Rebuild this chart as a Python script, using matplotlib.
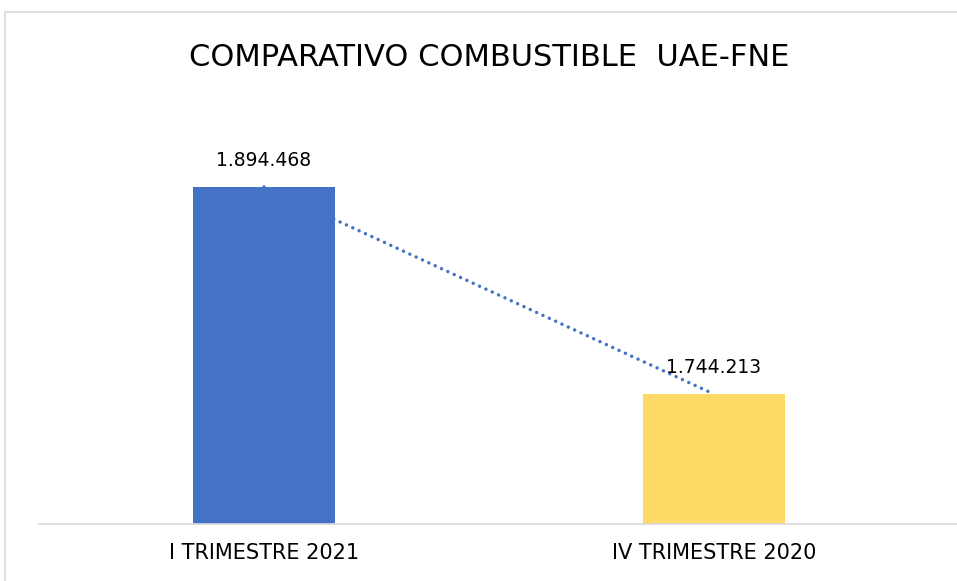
import matplotlib.pyplot as plt
from matplotlib import font_manager
from matplotlib.patches import Rectangle

# data
categories = ['I TRIMESTRE 2021', 'IV TRIMESTRE 2020']
values = [1894468, 1744213]
labels = ['1.894.468', '1.744.213']
colors = ['#4472C4', '#FFD966']

names = set(f.name for f in font_manager.fontManager.ttflist)
font = 'Liberation Sans Narrow' if 'Liberation Sans Narrow' in names else 'DejaVu Sans'
plt.rcParams['font.family'] = [font, 'DejaVu Sans']

W, H = 957, 581
fig = plt.figure(figsize=(W / 100, H / 100), dpi=100)

# light grey chart frame (top and left edges visible)
fig.patches.append(Rectangle((5 / W, -0.1), 1.2, 1 - 12 / H + 0.1,
                             transform=fig.transFigure, fill=False,
                             edgecolor='#D9D9D9', linewidth=1.2))

ax = fig.add_axes([39 / W, 1 - 524 / H, (W - 39) / W, (524 - 110.4) / H])
x = list(range(len(categories)))
ax.bar(x, values, width=0.316, color=colors, zorder=2)
# dotted linear trend line
ax.plot(x, values, linestyle=(0, (0.01, 2.0)), color='#4472C4', linewidth=2.5,
        dash_capstyle='round', zorder=3)

ax.set_ylim(1650000, 1950000)
ax.set_xlim(-0.5, (W - 39) / 450 - 0.5)

for xi, v, lab in zip(x, values, labels):
    ax.annotate(lab, (xi, v), xytext=(0, 12), textcoords='offset points',
                ha='center', va='bottom', fontsize=13.5, color='#000000', zorder=5)

ax.set_xticks(x)
ax.set_xticklabels(categories, fontsize=15)
ax.tick_params(axis='x', length=0, pad=14)
ax.set_yticks([])
for s in ['top', 'right', 'left']:
    ax.spines[s].set_visible(False)
ax.spines['bottom'].set_color('#D9D9D9')
ax.spines['bottom'].set_linewidth(1.2)

fig.text(489 / W, 1 - 58 / H, 'COMPARATIVO COMBUSTIBLE  UAE-FNE',
         ha='center', va='center', fontsize=22)

fig.savefig('out.png', dpi=100)
